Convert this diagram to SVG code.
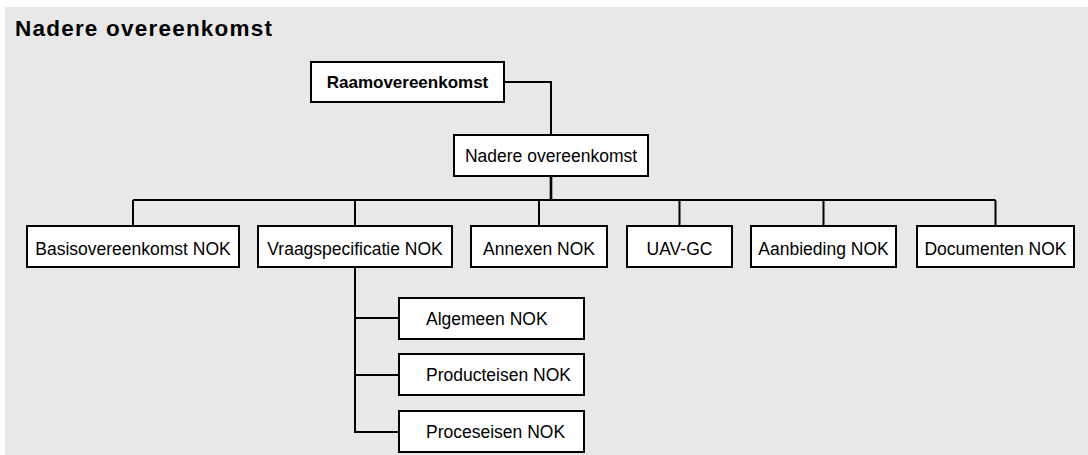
<svg xmlns="http://www.w3.org/2000/svg" width="1088" height="455" viewBox="0 0 1088 455">
<style>
.box{fill:#ffffff;stroke:#000000;stroke-width:2}
.t{font-family:"Liberation Sans",Arial,sans-serif;font-size:17.5px;fill:#000000}
.c{text-anchor:middle}
.b{font-weight:bold}
.con{fill:none;stroke:#000000;stroke-width:2}
</style>
<rect x="0" y="0" width="1088" height="455" fill="#ffffff"/>
<rect x="5" y="7" width="1083" height="448" fill="#e8e8e8"/>
<text x="15" y="36" class="t b" style="font-size:22.5px" textLength="257">Nadere overeenkomst</text>
<g id="connectors">
<path class="con" d="M504 82H551V135"/>
<path class="con" d="M551 176V200" style="stroke-width:2.6"/>
<path class="con" d="M133 200H995.5"/>
<path class="con" d="M133 200V226M355 200V226M539 200V226M679.5 200V226M823.5 200V226M995.5 200V226"/>
<path class="con" d="M355 267V432H399M355 318H399M355 375H399"/>
</g>
<g id="raamovereenkomst"><rect class="box" x="311" y="62" width="193" height="40"/><text class="t c b" x="407.5" y="88" style="font-size:17px">Raamovereenkomst</text></g>
<g id="nadere"><rect class="box" x="454" y="135" width="194" height="41"/><text class="t c" x="551" y="162">Nadere overeenkomst</text></g>
<g id="basis"><rect class="box" x="27" y="226" width="212" height="41"/><text class="t c" x="133" y="255">Basisovereenkomst NOK</text></g>
<g id="vraag"><rect class="box" x="258" y="226" width="194" height="41"/><text class="t c" x="355" y="255">Vraagspecificatie NOK</text></g>
<g id="annexen"><rect class="box" x="471" y="226" width="136" height="41"/><text class="t c" x="539" y="255">Annexen NOK</text></g>
<g id="uavgc"><rect class="box" x="627" y="226" width="105" height="41"/><text class="t c" x="679.5" y="255">UAV-GC</text></g>
<g id="aanbieding"><rect class="box" x="751" y="226" width="145" height="41"/><text class="t c" x="823.5" y="255">Aanbieding NOK</text></g>
<g id="documenten"><rect class="box" x="917" y="226" width="157" height="41"/><text class="t c" x="995.5" y="255">Documenten NOK</text></g>
<g id="algemeen"><rect class="box" x="399" y="298" width="185" height="41"/><text class="t" x="426" y="325">Algemeen NOK</text></g>
<g id="producteisen"><rect class="box" x="399" y="354" width="185" height="41"/><text class="t" x="426" y="381">Producteisen NOK</text></g>
<g id="proceseisen"><rect class="box" x="399" y="411" width="185" height="41"/><text class="t" x="426" y="438">Proceseisen NOK</text></g>
</svg>
